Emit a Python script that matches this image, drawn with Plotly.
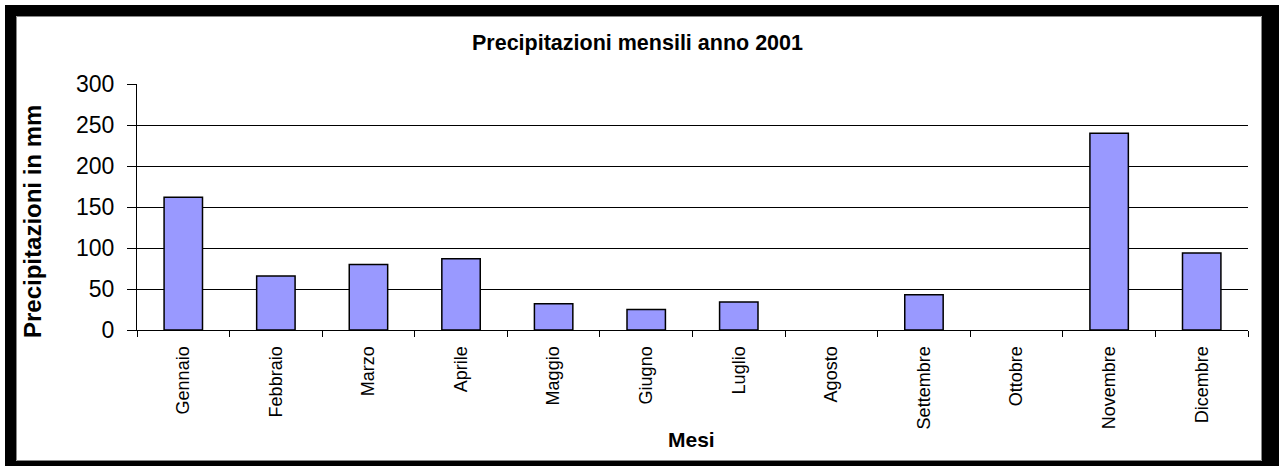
import plotly.graph_objects as go

# Monthly rainfall, 2001
mesi = ["Gennaio", "Febbraio", "Marzo", "Aprile", "Maggio", "Giugno",
        "Luglio", "Agosto", "Settembre", "Ottobre", "Novembre", "Dicembre"]
precipitazioni_mm = [162, 66, 80, 87, 32, 25, 34, 0, 43, 0, 240, 94]
y_ticks = [0, 50, 100, 150, 200, 250, 300]

W, H = 1279, 466
ML, MR, MT, MB = 137, 31, 84, 136
PW, PH = W - ML - MR, H - MT - MB

FONT = "Liberation Sans, Arial, sans-serif"


def px(x):
    return (x - ML) / PW


def py(y):
    return (H - MB - y) / PH


# empty months get no outline, so no flat sliver is drawn on the axis
outline_widths = [1.5 if v > 0 else 0 for v in precipitazioni_mm]

fig = go.Figure(
    go.Bar(
        x=mesi,
        y=precipitazioni_mm,
        marker=dict(color="#9999FF", line=dict(color="#000000", width=outline_widths)),
    )
)

# black frame around the whole chart
frame = [(5, 5, 16, 466), (5, 5, 1279, 16), (1262, 5, 1279, 466), (5, 461, 1279, 466)]
shapes = [
    dict(type="rect", xref="paper", yref="paper",
         x0=px(a), x1=px(c), y0=py(d), y1=py(b),
         fillcolor="#000000", line=dict(width=0))
    for a, b, c, d in frame
]
shapes.append(dict(type="rect", xref="paper", yref="paper",
                   x0=px(16.5), x1=px(1261.5), y0=py(460.5), y1=py(16.5),
                   fillcolor="rgba(0,0,0,0)", line=dict(color="#888888", width=1)))

fig.update_layout(
    width=W, height=H,
    margin=dict(l=ML, r=MR, t=MT, b=MB, pad=0),
    paper_bgcolor="#FFFFFF",
    plot_bgcolor="#FFFFFF",
    showlegend=False,
    bargap=0.585,
    font=dict(family=FONT, color="#000000"),
    shapes=shapes,
    annotations=[
        dict(text="<b>Precipitazioni mensili anno 2001</b>", xref="paper", yref="paper",
             x=px(637), y=py(43), xanchor="center", yanchor="middle",
             showarrow=False, font=dict(size=21.5, family=FONT)),
        dict(text="<b>Precipitazioni in mm</b>", xref="paper", yref="paper",
             x=px(32), y=py(222), xanchor="center", yanchor="middle", textangle=-90,
             showarrow=False, font=dict(size=24, family=FONT)),
        dict(text="<b>Mesi</b>", xref="paper", yref="paper",
             x=px(691), y=py(439), xanchor="center", yanchor="middle",
             showarrow=False, font=dict(size=21, family=FONT)),
    ],
)

fig.update_xaxes(
    type="category",
    showline=True, linecolor="#000000", linewidth=1.3,
    showgrid=False,
    ticks="outside", ticklen=6, tickcolor="#000000", tickwidth=1.3,
    tickson="boundaries",
    tickangle=-90,
    tickfont=dict(size=18, family=FONT),
    ticklabelstandoff=8,
)
fig.update_yaxes(
    range=[0, 300],
    tickvals=y_ticks,
    showline=True, linecolor="#000000", linewidth=1.3,
    showgrid=True, gridcolor="#000000", gridwidth=1.3,
    zeroline=False,
    ticks="outside", ticklen=9, tickcolor="#000000", tickwidth=1.3,
    tickfont=dict(size=23, family=FONT),
    ticklabelstandoff=8,
)

fig.write_html("out.html")
